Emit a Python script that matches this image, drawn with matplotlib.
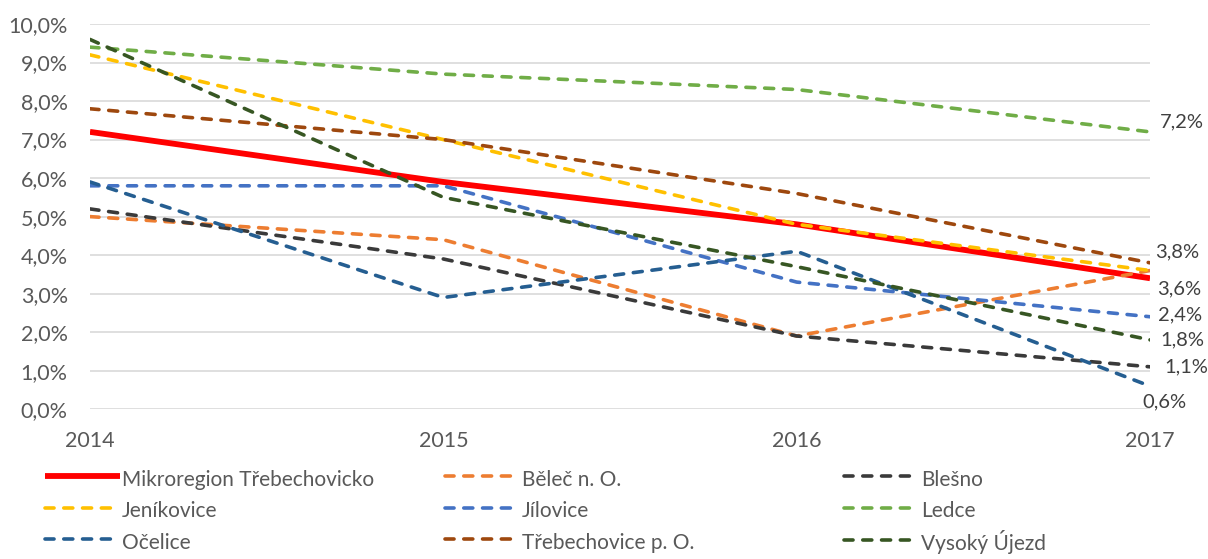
import matplotlib
matplotlib.use('Agg')
import matplotlib.pyplot as plt
from matplotlib.ticker import FuncFormatter

plt.rcParams['font.family'] = ['Lato', 'DejaVu Sans']

years = [2014, 2015, 2016, 2017]

mikroregion = [7.2, 5.9, 4.8, 3.4]
belec = [5.0, 4.4, 1.9, 3.6]
blesno = [5.2, 3.9, 1.9, 1.1]
jenikovice = [9.2, 7.0, 4.8, 3.6]
jilovice = [5.8, 5.8, 3.3, 2.4]
ledce = [9.4, 8.7, 8.3, 7.2]
ocelice = [5.9, 2.9, 4.1, 0.6]
trebechovice = [7.8, 7.0, 5.6, 3.8]
vysoky_ujezd = [9.6, 5.5, 3.7, 1.8]

series = [
    ('Mikroregion Třebechovicko', mikroregion, '#FF0000'),
    ('Běleč n. O.', belec, '#ED7D31'),
    ('Blešno', blesno, '#3A3A3A'),
    ('Jeníkovice', jenikovice, '#FFC000'),
    ('Jílovice', jilovice, '#4472C4'),
    ('Ledce', ledce, '#70AD47'),
    ('Očelice', ocelice, '#255E91'),
    ('Třebechovice p. O.', trebechovice, '#9E480E'),
    ('Vysoký Újezd', vysoky_ujezd, '#375623'),
]

# label offsets (pixels) for the 2017 values that carry a data label
end_labels = {
    'Ledce': (10, 10, 'left'),
    'Třebechovice p. O.': (5, 11, 'left'),
    'Jeníkovice': (7, -18, 'left'),
    'Jílovice': (8, 2, 'left'),
    'Vysoký Újezd': (10, 0, 'left'),
    'Blešno': (14, 0, 'left'),
    'Očelice': (14, -16, 'center'),
}

FS = 15.5

fig = plt.figure(figsize=(12.08, 5.59), dpi=100)
ax = fig.add_axes([0.0745, 0.268, 0.8775, 0.689])

handles = []
for name, vals, col in series:
    if name == 'Mikroregion Třebechovicko':
        h, = ax.plot(years, vals, color=col, lw=4.2, label=name, solid_capstyle='butt', zorder=3)
    else:
        h, = ax.plot(years, vals, color=col, lw=2.6, dashes=(2.5, 2.7), label=name,
                     dash_capstyle='round', zorder=3)
    handles.append(h)
    if name in end_labels:
        dx, dy, ha = end_labels[name]
        ax.annotate('{:.1f}%'.format(vals[-1]).replace('.', ','), (years[-1], vals[-1]),
                    xytext=(dx, dy), textcoords='offset pixels', ha=ha, va='center',
                    fontsize=14.5, color='#404040')

ax.set_xlim(2014, 2017)
ax.set_ylim(0, 10)
ax.set_xticks(years)
ax.set_yticks(range(0, 11))
ax.yaxis.set_major_formatter(FuncFormatter(lambda v, p: '{:.1f}%'.format(v).replace('.', ',')))
ax.grid(axis='y', color='#D9D9D9', lw=1.2)
ax.set_axisbelow(True)
for s in ax.spines.values():
    s.set_visible(False)
ax.tick_params(length=0, labelsize=FS, labelcolor='#595959')
ax.tick_params(axis='y', pad=16)
ax.tick_params(axis='x', pad=16)

# legend: three rows of three, filled row by row
col_x = [0.0373, 0.368, 0.699]
for c in range(3):
    hs = handles[c::3]
    leg = fig.legend(hs, [h.get_label() for h in hs], loc='upper left',
                     bbox_to_anchor=(col_x[c], 0.166), frameon=False, fontsize=15,
                     handlelength=3.6, handleheight=1.5, handletextpad=0.1,
                     labelspacing=0.3, borderpad=0, borderaxespad=0,
                     labelcolor='#595959')

fig.savefig('out.png', dpi=100)
